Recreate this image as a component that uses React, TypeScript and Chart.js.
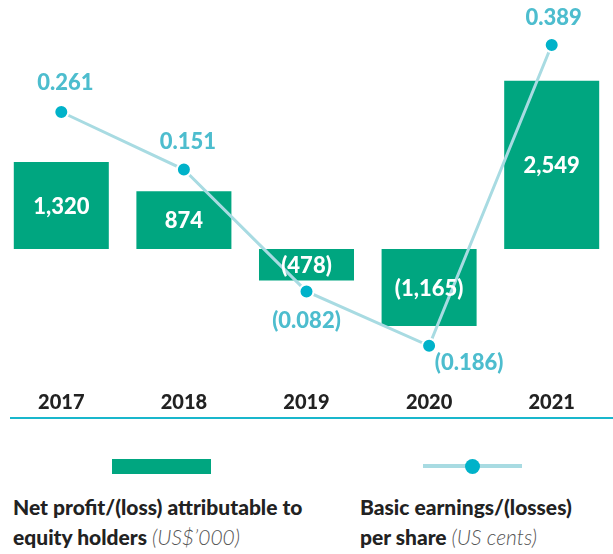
import React, { useEffect, useRef } from "react";
import { Chart, registerables } from "chart.js";

Chart.register(...registerables);

const years = ["2017", "2018", "2019", "2020", "2021"];
const netProfit = [1320, 874, -478, -1165, 2549];
const netProfitLabels = ["1,320", "874", "(478)", "(1,165)", "2,549"];
const eps = [0.261, 0.151, -0.082, -0.186, 0.389];
const epsLabels = ["0.261", "0.151", "(0.082)", "(0.186)", "0.389"];

const GREEN = "#00a680";
const LINE = "#a8dbe2";
const POINT = "#00b2c9";
const TEAL_TEXT = "#4dbdce";
const FONT = "Lato, 'Open Sans', sans-serif";

// label placement styling (pixel offsets from each point)
const epsLabelOffsets: [number, number][] = [
  [4, -29],
  [4, -28],
  [0, 30],
  [40, 17],
  [2, -27],
];

const labelPlugin = {
  id: "valueLabels",
  afterDatasetsDraw(chart: any) {
    const ctx = chart.ctx;
    ctx.save();
    ctx.textAlign = "center";
    ctx.textBaseline = "middle";
    ctx.font = `900 22px ${FONT}`;
    const barMeta = chart.getDatasetMeta(1);
    barMeta.data.forEach((bar: any, i: number) => {
      const p = bar.getProps(["x", "y", "base"], true);
      ctx.fillStyle = "#ffffff";
      ctx.fillText(netProfitLabels[i], p.x, (p.y + p.base) / 2 + 1);
    });
    const lineMeta = chart.getDatasetMeta(0);
    lineMeta.data.forEach((pt: any, i: number) => {
      const p = pt.getProps(["x", "y"], true);
      const [dx, dy] = epsLabelOffsets[i];
      ctx.fillStyle = TEAL_TEXT;
      ctx.fillText(epsLabels[i], p.x + dx, p.y + dy);
    });
    // separator under year labels
    ctx.strokeStyle = "#19b7cc";
    ctx.lineWidth = 2;
    ctx.beginPath();
    ctx.moveTo(10, 418);
    ctx.lineTo(chart.width, 418);
    ctx.stroke();
    ctx.restore();
  },
};

export default function App() {
  const ref = useRef<HTMLCanvasElement>(null);
  useEffect(() => {
    const chart = new Chart(ref.current!, {
      type: "bar",
      data: {
        labels: years,
        datasets: [
          {
            type: "line",
            label: "Basic earnings/(losses) per share",
            data: eps,
            yAxisID: "y1",
            borderColor: LINE,
            borderWidth: 3,
            pointRadius: 7,
            pointBackgroundColor: POINT,
            pointBorderColor: "#ffffff",
            pointBorderWidth: 2,
            tension: 0,
            order: 0,
          } as any,
          {
            type: "bar",
            label: "Net profit/(loss) attributable to equity holders",
            data: netProfit,
            yAxisID: "y",
            backgroundColor: GREEN,
            barPercentage: 0.775,
            categoryPercentage: 1,
            order: 1,
          },
        ],
      },
      options: {
        responsive: false,
        animation: false,
        layout: { autoPadding: false, padding: { top: 20, left: 0, right: 0, bottom: 0 } },
        plugins: { legend: { display: false }, tooltip: { enabled: false } },
        scales: {
          x: {
            grid: { display: false, drawTicks: false },
            border: { display: false },
            ticks: {
              color: "#222222",
              font: { family: FONT, size: 20, weight: "900" },
              padding: 11,
            },
            afterFit: (scale: any) => {
              scale.height = 50;
            },
          },
          y: { display: false, min: -1985, max: 3470 },
          y1: { display: false, min: -0.2514, max: 0.4369 },
        },
      },
      plugins: [labelPlugin],
    });
    return () => chart.destroy();
  }, []);

  const textBase: React.CSSProperties = {
    position: "absolute",
    fontFamily: FONT,
    fontWeight: 900,
    fontSize: 21,
    lineHeight: "30px",
    color: "#222222",
    whiteSpace: "nowrap",
  };
  const light: React.CSSProperties = {
    fontWeight: 300,
    fontStyle: "italic",
    color: "#555555",
  };

  return (
    <div style={{ position: "absolute", left: 0, top: 0, width: 613, height: 554, background: "#fff" }}>
      <canvas ref={ref} width={613} height={430} style={{ position: "absolute", left: 0, top: 0 }} />
      <div style={{ position: "absolute", left: 112, top: 459, width: 99, height: 15, background: GREEN }} />
      <div style={{ position: "absolute", left: 423, top: 464, width: 99, height: 4, background: LINE }} />
      <div
        style={{
          position: "absolute",
          left: 465,
          top: 459,
          width: 15,
          height: 15,
          borderRadius: "50%",
          background: POINT,
        }}
      />
      <div style={{ ...textBase, left: 13, top: 492 }}>
        Net profit/(loss) attributable to
        <br />
        equity holders <span style={light}>(US$’000)</span>
      </div>
      <div style={{ ...textBase, left: 360, top: 492 }}>
        Basic earnings/(losses)
        <br />
        per share <span style={light}>(US cents)</span>
      </div>
    </div>
  );
}
